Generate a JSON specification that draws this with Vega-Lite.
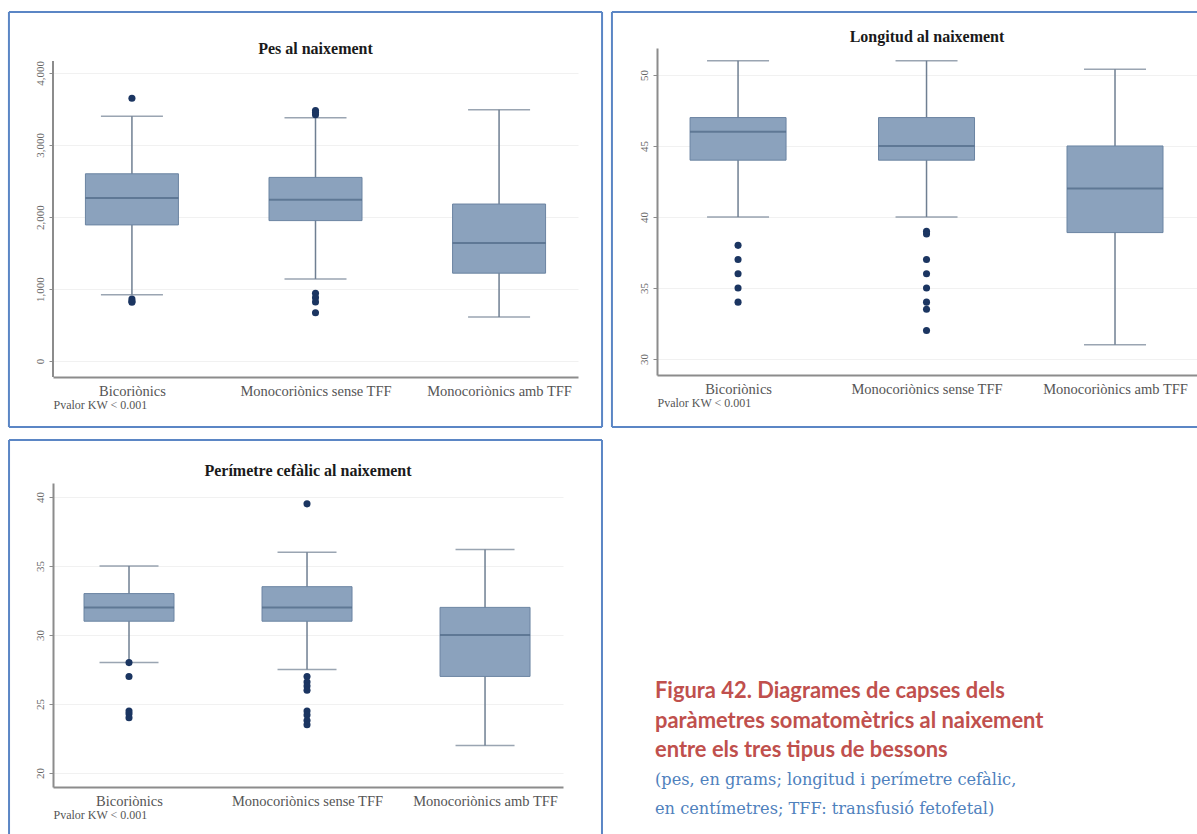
{
  "$schema": "https://vega.github.io/schema/vega-lite/v6.json",
  "usermeta": {"embedOptions": {"actions": false}},
  "background": "white",
  "padding": {"left": 7, "top": 10, "right": 0, "bottom": 0},
  "spacing": 9,
  "config": {
    "view": {"stroke": null},
    "scale": {"continuousPadding": 0},
    "font": "Liberation Serif",
    "title": {"font": "Liberation Serif", "fontSize": 16, "fontWeight": "bold", "color": "#1a1a1a", "anchor": "middle", "frame": "group", "baseline": "middle"},
    "axisX": {"domainColor": "#8c8c8c", "domainWidth": 2, "labelFont": "Liberation Serif", "labelFontSize": 14.5, "labelColor": "#555555", "labelPadding": 7, "ticks": false, "grid": false, "titleFont": "Liberation Serif", "titleAnchor": "start", "titleAlign": "left", "titleFontSize": 12, "titleFontWeight": "normal", "titleColor": "#555555", "titlePadding": 2},
    "axisY": {"domainColor": "#8c8c8c", "domainWidth": 2, "labelFont": "Liberation Serif", "labelFontSize": 11, "labelColor": "#666666", "labelAngle": -90, "labelAlign": "center", "labelBaseline": "bottom", "labelPadding": 4, "tickColor": "#8c8c8c", "tickSize": 4, "grid": true, "gridColor": "#f1f1f1", "title": null}
  },
  "datasets": {
    "stats": [
      {"panel": "pes", "g": 1, "grup": "Bicoriònics", "min": 920, "q1": 1890, "median": 2265, "q3": 2600, "max": 3400},
      {"panel": "pes", "g": 2, "grup": "Monocoriònics sense TFF", "min": 1140, "q1": 1950, "median": 2240, "q3": 2550, "max": 3380},
      {"panel": "pes", "g": 3, "grup": "Monocoriònics amb TFF", "min": 610, "q1": 1220, "median": 1640, "q3": 2180, "max": 3490},
      {"panel": "long", "g": 1, "grup": "Bicoriònics", "min": 40, "q1": 44, "median": 46, "q3": 47, "max": 51},
      {"panel": "long", "g": 2, "grup": "Monocoriònics sense TFF", "min": 40, "q1": 44, "median": 45, "q3": 47, "max": 51},
      {"panel": "long", "g": 3, "grup": "Monocoriònics amb TFF", "min": 31, "q1": 38.9, "median": 42, "q3": 45, "max": 50.4},
      {"panel": "per", "g": 1, "grup": "Bicoriònics", "min": 28, "q1": 31, "median": 32, "q3": 33, "max": 35},
      {"panel": "per", "g": 2, "grup": "Monocoriònics sense TFF", "min": 27.5, "q1": 31, "median": 32, "q3": 33.5, "max": 36},
      {"panel": "per", "g": 3, "grup": "Monocoriònics amb TFF", "min": 22, "q1": 27, "median": 30, "q3": 32, "max": 36.2}
    ],
    "outliers": [
      {"panel": "pes", "g": 1, "valor": 3650},
      {"panel": "pes", "g": 1, "valor": 860},
      {"panel": "pes", "g": 1, "valor": 830},
      {"panel": "pes", "g": 1, "valor": 815},
      {"panel": "pes", "g": 2, "valor": 3480},
      {"panel": "pes", "g": 2, "valor": 3450},
      {"panel": "pes", "g": 2, "valor": 3420},
      {"panel": "pes", "g": 2, "valor": 940},
      {"panel": "pes", "g": 2, "valor": 880},
      {"panel": "pes", "g": 2, "valor": 820},
      {"panel": "pes", "g": 2, "valor": 670},
      {"panel": "long", "g": 1, "valor": 38},
      {"panel": "long", "g": 1, "valor": 37},
      {"panel": "long", "g": 1, "valor": 36},
      {"panel": "long", "g": 1, "valor": 35},
      {"panel": "long", "g": 1, "valor": 34},
      {"panel": "long", "g": 2, "valor": 39},
      {"panel": "long", "g": 2, "valor": 38.8},
      {"panel": "long", "g": 2, "valor": 37},
      {"panel": "long", "g": 2, "valor": 36},
      {"panel": "long", "g": 2, "valor": 35},
      {"panel": "long", "g": 2, "valor": 34},
      {"panel": "long", "g": 2, "valor": 33.5},
      {"panel": "long", "g": 2, "valor": 32},
      {"panel": "per", "g": 1, "valor": 28},
      {"panel": "per", "g": 1, "valor": 27},
      {"panel": "per", "g": 1, "valor": 24.5},
      {"panel": "per", "g": 1, "valor": 24.3},
      {"panel": "per", "g": 1, "valor": 24},
      {"panel": "per", "g": 2, "valor": 39.5},
      {"panel": "per", "g": 2, "valor": 27},
      {"panel": "per", "g": 2, "valor": 26.6},
      {"panel": "per", "g": 2, "valor": 26.3},
      {"panel": "per", "g": 2, "valor": 26},
      {"panel": "per", "g": 2, "valor": 24.5},
      {"panel": "per", "g": 2, "valor": 24.2},
      {"panel": "per", "g": 2, "valor": 23.8},
      {"panel": "per", "g": 2, "valor": 23.5}
    ],
    "caption": [
      {"line": 1, "kind": "head", "text": "Figura 42. Diagrames de capses dels"},
      {"line": 2, "kind": "head", "text": "paràmetres somatomètrics al naixement"},
      {"line": 3, "kind": "head", "text": "entre els tres tipus de bessons"},
      {"line": 4, "kind": "note", "text": "(pes, en grams; longitud i perímetre cefàlic,"},
      {"line": 5, "kind": "note", "text": "en centímetres; TFF: transfusió fetofetal)"}
    ]
  },
  "vconcat": [
    {
      "spacing": 6,
      "hconcat": [
        {
          "width": 525,
          "height": 329,
          "title": {"text": "Pes al naixement", "offset": -46},
          "layer": [
            {
              "data": {"name": "stats"},
              "transform": [{"filter": "datum.panel == 'pes'"}],
              "mark": {"type": "rule", "color": "#6f7f92", "strokeWidth": 1.5},
              "encoding": {
                "x": {"field": "g", "type": "quantitative", "scale": {"domain": [0.57, 3.43], "nice": false, "zero": false, "padding": 0},
                      "axis": {"values": [1, 2, 3], "labelExpr": "datum.value == 1 ? 'Bicoriònics' : datum.value == 2 ? 'Monocoriònics sense TFF' : 'Monocoriònics amb TFF'", "title": "Pvalor KW < 0.001"}},
                "y": {"field": "min", "type": "quantitative", "scale": {"domain": [-222, 4347], "nice": false, "zero": false},
                      "axis": {"values": [0, 1000, 2000, 3000, 4000], "labelExpr": "format(datum.value, ',')", "domain": false}},
                "y2": {"field": "max"}
              }
            },
            {
              "data": {"values": [{}]},
              "mark": {"type": "rule", "color": "#8c8c8c", "strokeWidth": 2},
              "encoding": {"x": {"datum": 0.57, "type": "quantitative"}, "y": {"datum": -222, "type": "quantitative"}, "y2": {"datum": 4167}}
            },
            {
              "data": {"name": "stats"},
              "transform": [{"filter": "datum.panel == 'pes'"}],
              "mark": {"type": "tick", "orient": "horizontal", "size": 62, "thickness": 1.5, "color": "#6f7f92"},
              "encoding": {"x": {"field": "g", "type": "quantitative"}, "y": {"field": "min", "type": "quantitative"}}
            },
            {
              "data": {"name": "stats"},
              "transform": [{"filter": "datum.panel == 'pes'"}],
              "mark": {"type": "tick", "orient": "horizontal", "size": 62, "thickness": 1.5, "color": "#6f7f92"},
              "encoding": {"x": {"field": "g", "type": "quantitative"}, "y": {"field": "max", "type": "quantitative"}}
            },
            {
              "data": {"name": "stats"},
              "transform": [{"filter": "datum.panel == 'pes'"}],
              "mark": {"type": "bar", "orient": "vertical", "size": 93, "fill": "#8ba2bd", "stroke": "#6b84a2", "strokeWidth": 1},
              "encoding": {"x": {"field": "g", "type": "quantitative"}, "y": {"field": "q1", "type": "quantitative"}, "y2": {"field": "q3"}}
            },
            {
              "data": {"name": "stats"},
              "transform": [{"filter": "datum.panel == 'pes'"}],
              "mark": {"type": "tick", "orient": "horizontal", "size": 93, "thickness": 2, "color": "#4d6684"},
              "encoding": {"x": {"field": "g", "type": "quantitative"}, "y": {"field": "median", "type": "quantitative"}}
            },
            {
              "data": {"name": "outliers"},
              "transform": [{"filter": "datum.panel == 'pes'"}],
              "mark": {"type": "circle", "size": 50, "color": "#1b3561", "opacity": 1},
              "encoding": {"x": {"field": "g", "type": "quantitative"}, "y": {"field": "valor", "type": "quantitative"}}
            },
            {
              "data": {"values": [{}]},
              "mark": {"type": "rule", "color": "#5b86c5", "strokeWidth": 2},
              "encoding": {"x": {"datum": 0.33, "type": "quantitative"}, "y": {"datum": -917, "type": "quantitative"}, "y2": {"datum": 4847}}
            },
            {
              "data": {"values": [{}]},
              "mark": {"type": "rule", "color": "#5b86c5", "strokeWidth": 2},
              "encoding": {"x": {"datum": 3.561, "type": "quantitative"}, "y": {"datum": -917, "type": "quantitative"}, "y2": {"datum": 4847}}
            },
            {
              "data": {"values": [{}]},
              "mark": {"type": "rule", "color": "#5b86c5", "strokeWidth": 2},
              "encoding": {"y": {"datum": 4847, "type": "quantitative"}, "x": {"datum": 0.33, "type": "quantitative"}, "x2": {"datum": 3.561}}
            },
            {
              "data": {"values": [{}]},
              "mark": {"type": "rule", "color": "#5b86c5", "strokeWidth": 2},
              "encoding": {"y": {"datum": -917, "type": "quantitative"}, "x": {"datum": 0.33, "type": "quantitative"}, "x2": {"datum": 3.561}}
            }
          ]
        },
        {
          "width": 540,
          "height": 327,
          "title": {"text": "Longitud al naixement", "offset": -34},
          "layer": [
            {
              "data": {"name": "stats"},
              "transform": [{"filter": "datum.panel == 'long'"}],
              "mark": {"type": "rule", "color": "#6f7f92", "strokeWidth": 1.5},
              "encoding": {
                "x": {"field": "g", "type": "quantitative", "scale": {"domain": [0.57, 3.435], "nice": false, "zero": false, "padding": 0},
                      "axis": {"values": [1, 2, 3], "labelExpr": "datum.value == 1 ? 'Bicoriònics' : datum.value == 2 ? 'Monocoriònics sense TFF' : 'Monocoriònics amb TFF'", "title": "Pvalor KW < 0.001"}},
                "y": {"field": "min", "type": "quantitative", "scale": {"domain": [28.87, 51.9], "nice": false, "zero": false},
                      "axis": {"values": [30, 35, 40, 45, 50]}},
                "y2": {"field": "max"}
              }
            },
            {
              "data": {"name": "stats"},
              "transform": [{"filter": "datum.panel == 'long'"}],
              "mark": {"type": "tick", "orient": "horizontal", "size": 62, "thickness": 1.5, "color": "#6f7f92"},
              "encoding": {"x": {"field": "g", "type": "quantitative"}, "y": {"field": "min", "type": "quantitative"}}
            },
            {
              "data": {"name": "stats"},
              "transform": [{"filter": "datum.panel == 'long'"}],
              "mark": {"type": "tick", "orient": "horizontal", "size": 62, "thickness": 1.5, "color": "#6f7f92"},
              "encoding": {"x": {"field": "g", "type": "quantitative"}, "y": {"field": "max", "type": "quantitative"}}
            },
            {
              "data": {"name": "stats"},
              "transform": [{"filter": "datum.panel == 'long'"}],
              "mark": {"type": "bar", "orient": "vertical", "size": 96, "fill": "#8ba2bd", "stroke": "#6b84a2", "strokeWidth": 1},
              "encoding": {"x": {"field": "g", "type": "quantitative"}, "y": {"field": "q1", "type": "quantitative"}, "y2": {"field": "q3"}}
            },
            {
              "data": {"name": "stats"},
              "transform": [{"filter": "datum.panel == 'long'"}],
              "mark": {"type": "tick", "orient": "horizontal", "size": 96, "thickness": 2, "color": "#4d6684"},
              "encoding": {"x": {"field": "g", "type": "quantitative"}, "y": {"field": "median", "type": "quantitative"}}
            },
            {
              "data": {"name": "outliers"},
              "transform": [{"filter": "datum.panel == 'long'"}],
              "mark": {"type": "circle", "size": 50, "color": "#1b3561", "opacity": 1},
              "encoding": {"x": {"field": "g", "type": "quantitative"}, "y": {"field": "valor", "type": "quantitative"}}
            },
            {
              "data": {"values": [{}]},
              "mark": {"type": "rule", "color": "#5b86c5", "strokeWidth": 2},
              "encoding": {"x": {"datum": 0.331, "type": "quantitative"}, "y": {"datum": 25.21, "type": "quantitative"}, "y2": {"datum": 54.44}}
            },
            {
              "data": {"values": [{}]},
              "mark": {"type": "rule", "color": "#5b86c5", "strokeWidth": 2},
              "encoding": {"y": {"datum": 54.44, "type": "quantitative"}, "x": {"datum": 0.331, "type": "quantitative"}, "x2": {"datum": 3.435}}
            },
            {
              "data": {"values": [{}]},
              "mark": {"type": "rule", "color": "#5b86c5", "strokeWidth": 2},
              "encoding": {"y": {"datum": 25.21, "type": "quantitative"}, "x": {"datum": 0.331, "type": "quantitative"}, "x2": {"datum": 3.435}}
            }
          ]
        }
      ]
    },
    {
      "spacing": 52,
      "hconcat": [
        {
          "width": 510,
          "height": 304,
          "title": {"text": "Perímetre cefàlic al naixement", "offset": -40},
          "layer": [
            {
              "data": {"name": "stats"},
              "transform": [{"filter": "datum.panel == 'per'"}],
              "mark": {"type": "rule", "color": "#6f7f92", "strokeWidth": 1.5},
              "encoding": {
                "x": {"field": "g", "type": "quantitative", "scale": {"domain": [0.573, 3.438], "nice": false, "zero": false, "padding": 0},
                      "axis": {"values": [1, 2, 3], "labelExpr": "datum.value == 1 ? 'Bicoriònics' : datum.value == 2 ? 'Monocoriònics sense TFF' : 'Monocoriònics amb TFF'", "title": "Pvalor KW < 0.001"}},
                "y": {"field": "min", "type": "quantitative", "scale": {"domain": [18.99, 41.01], "nice": false, "zero": false},
                      "axis": {"values": [20, 25, 30, 35, 40]}},
                "y2": {"field": "max"}
              }
            },
            {
              "data": {"name": "stats"},
              "transform": [{"filter": "datum.panel == 'per'"}],
              "mark": {"type": "tick", "orient": "horizontal", "size": 59, "thickness": 1.5, "color": "#6f7f92"},
              "encoding": {"x": {"field": "g", "type": "quantitative"}, "y": {"field": "min", "type": "quantitative"}}
            },
            {
              "data": {"name": "stats"},
              "transform": [{"filter": "datum.panel == 'per'"}],
              "mark": {"type": "tick", "orient": "horizontal", "size": 59, "thickness": 1.5, "color": "#6f7f92"},
              "encoding": {"x": {"field": "g", "type": "quantitative"}, "y": {"field": "max", "type": "quantitative"}}
            },
            {
              "data": {"name": "stats"},
              "transform": [{"filter": "datum.panel == 'per'"}],
              "mark": {"type": "bar", "orient": "vertical", "size": 90, "fill": "#8ba2bd", "stroke": "#6b84a2", "strokeWidth": 1},
              "encoding": {"x": {"field": "g", "type": "quantitative"}, "y": {"field": "q1", "type": "quantitative"}, "y2": {"field": "q3"}}
            },
            {
              "data": {"name": "stats"},
              "transform": [{"filter": "datum.panel == 'per'"}],
              "mark": {"type": "tick", "orient": "horizontal", "size": 90, "thickness": 2, "color": "#4d6684"},
              "encoding": {"x": {"field": "g", "type": "quantitative"}, "y": {"field": "median", "type": "quantitative"}}
            },
            {
              "data": {"name": "outliers"},
              "transform": [{"filter": "datum.panel == 'per'"}],
              "mark": {"type": "circle", "size": 50, "color": "#1b3561", "opacity": 1},
              "encoding": {"x": {"field": "g", "type": "quantitative"}, "y": {"field": "valor", "type": "quantitative"}}
            },
            {
              "data": {"values": [{}]},
              "mark": {"type": "rule", "color": "#5b86c5", "strokeWidth": 2},
              "encoding": {"x": {"datum": 0.326, "type": "quantitative"}, "y": {"datum": 15.44, "type": "quantitative"}, "y2": {"datum": 44.13}}
            },
            {
              "data": {"values": [{}]},
              "mark": {"type": "rule", "color": "#5b86c5", "strokeWidth": 2},
              "encoding": {"x": {"datum": 3.657, "type": "quantitative"}, "y": {"datum": 15.44, "type": "quantitative"}, "y2": {"datum": 44.13}}
            },
            {
              "data": {"values": [{}]},
              "mark": {"type": "rule", "color": "#5b86c5", "strokeWidth": 2},
              "encoding": {"y": {"datum": 44.13, "type": "quantitative"}, "x": {"datum": 0.326, "type": "quantitative"}, "x2": {"datum": 3.657}}
            }
          ]
        },
        {
          "width": 540,
          "height": 340,
          "data": {"name": "caption"},
          "layer": [
            {
              "transform": [{"filter": "datum.kind == 'head'"}],
              "mark": {"type": "text", "align": "left", "baseline": "middle", "font": "Lato", "fontSize": 21.9, "fontWeight": "bold", "color": "#c0504d"},
              "encoding": {
                "x": {"datum": 0, "type": "quantitative", "scale": {"domain": [0, 1]}, "axis": null},
                "y": {"field": "line", "type": "quantitative", "scale": {"domain": [1, 5], "range": [208, 326]}, "axis": null},
                "text": {"field": "text"}
              }
            },
            {
              "transform": [{"filter": "datum.kind == 'note'"}],
              "mark": {"type": "text", "align": "left", "baseline": "middle", "font": "DejaVu Serif", "fontSize": 16.2, "color": "#4f81bd"},
              "encoding": {
                "x": {"datum": 0, "type": "quantitative"},
                "y": {"field": "line", "type": "quantitative"},
                "text": {"field": "text"}
              }
            }
          ]
        }
      ]
    }
  ]
}
